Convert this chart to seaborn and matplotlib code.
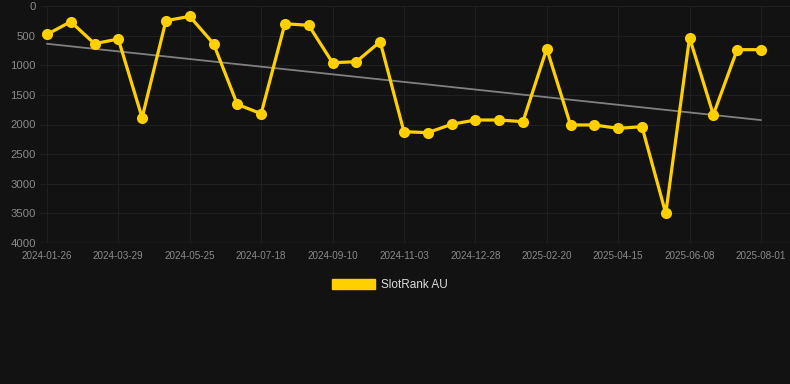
import seaborn as sns
import matplotlib.pyplot as plt
import numpy as np
import pandas as pd
from matplotlib.patches import Patch

# Values (rank, lower is better)
rank = [480, 265, 636, 557, 1885, 248, 175, 636, 1660, 1818,
        299, 326, 957, 940, 602, 2121, 2138, 1997, 1924, 1924,
        1952, 720, 2008, 2008, 2065, 2037, 3500, 535, 1835, 737, 737]
tick_labels = ["2024-01-26", "2024-03-29", "2024-05-25", "2024-07-18",
               "2024-09-10", "2024-11-03", "2024-12-28", "2025-02-20",
               "2025-04-15", "2025-06-08", "2025-08-01"]

df = pd.DataFrame({"idx": np.arange(len(rank)), "rank": rank})

bg = "#121212"
yellow = "#FFD000"

sns.set_theme(style="dark")
plt.rcParams["font.family"] = ["Liberation Sans", "DejaVu Sans"]

fig = plt.figure(figsize=(7.9, 3.84), dpi=100, facecolor=bg)
ax = fig.add_axes([40 / 790, 1 - 243 / 384, 750 / 790, 237 / 384])
ax.set_facecolor(bg)

# trend line (linear fit)
sns.regplot(data=df, x="idx", y="rank", scatter=False, ci=None, ax=ax,
            color="#808080", line_kws={"linewidth": 1.3})

sns.lineplot(data=df, x="idx", y="rank", ax=ax, color=yellow, linewidth=2.3,
             marker="o", markersize=8, markeredgewidth=0, markeredgecolor=yellow)

ax.set_ylim(4000, 0)
ax.set_xlim(-0.29, 31.22)
ax.set_yticks(range(0, 4001, 500))
ax.set_xticks(df["idx"][::3])
ax.set_xticklabels(tick_labels)
ax.set_xlabel("")
ax.set_ylabel("")

ax.grid(True, color="#1f1f1f", linewidth=0.8)
ax.axhline(4000, color="#2a2a2a", linewidth=1.0)
ax.tick_params(axis="y", colors="#8a8a8a", labelsize=8.2, length=0, pad=3)
ax.tick_params(axis="x", colors="#8a8a8a", labelsize=7.1, length=4, pad=2,
               color="#1f1f1f")
for s in ax.spines.values():
    s.set_visible(False)

handle = Patch(facecolor=yellow, edgecolor=yellow)
leg = fig.legend([handle], ["SlotRank AU"], loc="center",
                 bbox_to_anchor=(390 / 790, 1 - 285 / 384), frameon=False,
                 handlelength=3.6, handleheight=1.0, handletextpad=0.5,
                 fontsize=8.5)
for t in leg.get_texts():
    t.set_color("#dddddd")

fig.savefig("out.png", dpi=100, facecolor=bg)
